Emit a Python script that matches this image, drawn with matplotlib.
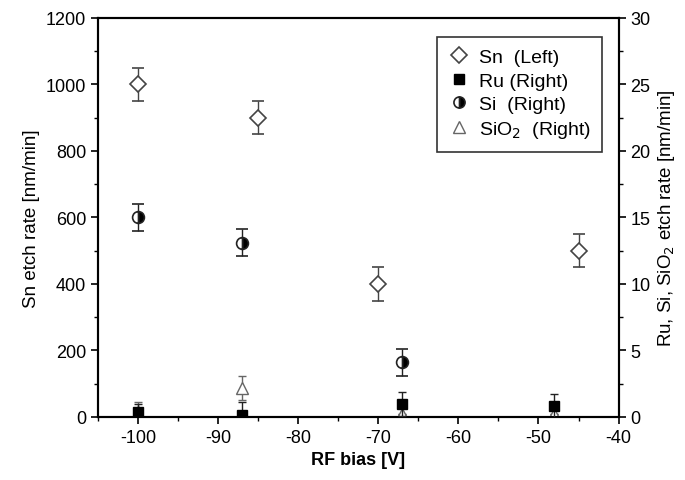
import matplotlib
matplotlib.use("Agg")
import matplotlib.pyplot as plt
from matplotlib.ticker import MultipleLocator
from matplotlib.lines import Line2D

plt.rcParams['font.family'] = ['Liberation Sans', 'DejaVu Sans']
plt.rcParams['axes.unicode_minus'] = False

# Sn (left axis)
sn_x = [-100, -85, -70, -45]
sn_y = [1000, 900, 400, 500]
sn_err = [50, 50, 50, 50]

# Ru (right axis)
ru_x = [-100, -87, -67, -48]
ru_y = [0.35, 0.15, 0.95, 0.85]
ru_err = [0.6, 1.0, 0.9, 0.9]

# Si (right axis)
si_x = [-100, -87, -67]
si_y = [15.0, 13.1, 4.1]
si_err = [1.0, 1.0, 1.0]

# SiO2 (right axis)
sio2_x = [-100, -87, -67, -48]
sio2_y = [0.4, 2.2, 0.2, 0.2]
sio2_err = [0.75, 0.9, 0.0, 0.0]

fig = plt.figure(figsize=(6.85, 4.81), dpi=100)
ax = fig.add_axes([0.143, 0.131, 0.760, 0.830])
ax2 = ax.twinx()

ax.errorbar(sn_x, sn_y, yerr=sn_err, fmt='D', ms=8.5, mfc='white', mec='#444444',
            mew=1.2, ecolor='#444444', elinewidth=1, capsize=4, zorder=3)
ax2.errorbar(sio2_x, sio2_y, yerr=sio2_err, fmt='^', ms=9, mfc='white', mec='#666666',
             mew=1.0, ecolor='#666666', elinewidth=1, capsize=3, zorder=2)
ax2.errorbar(ru_x, ru_y, yerr=ru_err, fmt='s', ms=7, mfc='black', mec='black',
             ecolor='#222222', elinewidth=1, capsize=3, zorder=3)
ax2.errorbar(si_x, si_y, yerr=si_err, fmt='o', ms=8.5, fillstyle='right', mfc='black',
             mfcalt='white', mec='#222222', mew=1.2, ecolor='#222222', elinewidth=1,
             capsize=4, zorder=3)

ax.set_xlim(-105, -40)
ax.set_ylim(0, 1200)
ax2.set_ylim(0, 30)

ax.xaxis.set_major_locator(MultipleLocator(10))
ax.xaxis.set_minor_locator(MultipleLocator(5))
ax.yaxis.set_major_locator(MultipleLocator(200))
ax.yaxis.set_minor_locator(MultipleLocator(100))
ax2.yaxis.set_major_locator(MultipleLocator(5))
ax2.yaxis.set_minor_locator(MultipleLocator(2.5))

for a in (ax, ax2):
    a.tick_params(which='major', direction='out', length=5, width=1.2, labelsize=13)
    a.tick_params(which='minor', direction='out', length=3, width=1)
    for s in a.spines.values():
        s.set_linewidth(1.5)

ax.set_xlabel('RF bias [V]', fontsize=13, fontweight='bold')
ax.set_ylabel('Sn etch rate [nm/min]', fontsize=13.5)
ax2.set_ylabel('Ru, Si, SiO$_2$ etch rate [nm/min]', fontsize=13.5)

handles = [
    Line2D([], [], ls='none', marker='D', ms=8, mfc='white', mec='#444444', mew=1.2),
    Line2D([], [], ls='none', marker='s', ms=7, mfc='black', mec='black'),
    Line2D([], [], ls='none', marker='o', ms=8, fillstyle='right', mfc='black',
           mfcalt='white', mec='#222222', mew=1.2),
    Line2D([], [], ls='none', marker='^', ms=8, mfc='white', mec='#666666'),
]
labels = ['Sn  (Left)', 'Ru (Right)', 'Si  (Right)', 'SiO$_2$  (Right)']
leg = ax2.legend(handles, labels, loc='upper right', bbox_to_anchor=(0.969, 0.952),
                 borderaxespad=0, fontsize=14, frameon=True, fancybox=False,
                 edgecolor='black', handletextpad=0.45, borderpad=0.6,
                 labelspacing=0.3, handlelength=1.1)
leg.get_frame().set_linewidth(1.2)

fig.savefig('out.png', dpi=100)
